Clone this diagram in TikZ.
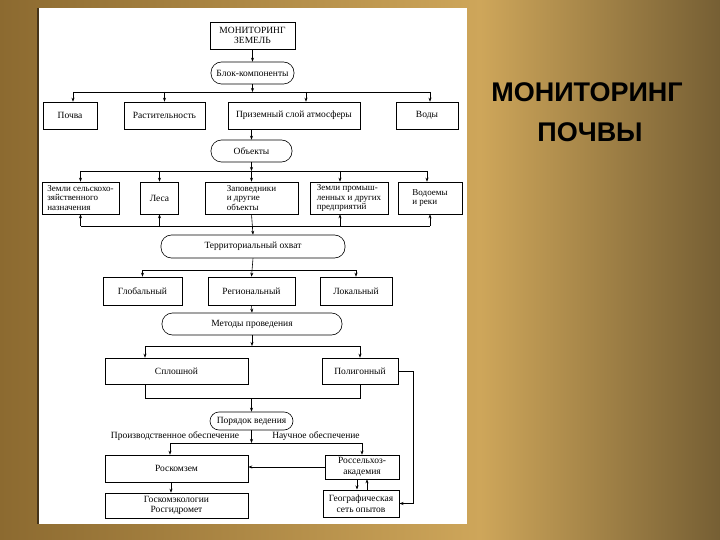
\documentclass[tikz,border=0pt]{standalone}
\usepackage{fontspec}
\setmainfont{Liberation Serif}
\newfontfamily\titlefont{Liberation Sans}
\usetikzlibrary{arrows.meta,calc}
\definecolor{goldL}{RGB}{140,106,48}
\definecolor{goldM}{RGB}{206,166,90}
\definecolor{goldR}{RGB}{118,95,52}
\definecolor{edge}{RGB}{70,52,25}
\begin{document}
\begin{tikzpicture}[x=1pt,y=-1pt,
  box/.style={draw,line width=0.6pt,inner sep=1pt,align=center,font=\fontsize{9.5}{10.5}\selectfont},
  box3/.style={box,align=left,font=\fontsize{9}{9.5}\selectfont},
  rbox/.style={box,rounded corners=10.5pt},
  lbl/.style={inner sep=0pt,font=\fontsize{9.5}{10.5}\selectfont},
  arr/.style={-{Stealth[length=4pt,width=3pt]},line width=0.6pt},
  ln/.style={line width=0.6pt},
  ttl/.style={font=\titlefont\bfseries\fontsize{27}{30}\selectfont,text=black,inner sep=0pt}]
% background
\useasboundingbox (0,0) rectangle (720,540);
\shade[left color=goldL,right color=goldM] (0,0) rectangle (480,540);
\shade[left color=goldM,right color=goldR] (480,0) rectangle (720,540);
\fill[white] (38,8) rectangle (467,524);
\draw[edge,line width=1.2pt] (38,8) -- (38,524);
% title
\node[ttl] (t1) at (587,92) {МОНИТОРИНГ};
\node[ttl] (t2) at (590,132) {ПОЧВЫ};
% helper coordinates
\coordinate (h1) at (0,92);
\coordinate (h2) at (0,171);
\coordinate (h3) at (0,226);
\coordinate (h4) at (0,270);
\coordinate (h5) at (0,346);
\coordinate (h6) at (0,398);
\coordinate (h7) at (0,443);
\coordinate (rx) at (413,0);
% nodes
\node[box,minimum width=85pt,minimum height=27pt] (mz) at (252.5,35.5) {МОНИТОРИНГ\\ЗЕМЕЛЬ};
\node[rbox,minimum width=83pt,minimum height=22pt] (bk) at (252.5,73) {Блок-компоненты};
\node[box,minimum width=54pt,minimum height=27pt] (pochva) at (70,115.5) {Почва};
\node[box,minimum width=81pt,minimum height=27pt] (rast) at (164.5,115.5) {Растительность};
\node[box,minimum width=132pt,minimum height=27pt] (priz) at (294,115.5) {Приземный слой атмосферы};
\node[box,minimum width=62pt,minimum height=27pt] (vody) at (427,115.5) {Воды};
\node[rbox,minimum width=81pt,minimum height=22pt] (obj) at (251.5,151) {Объекты};
\node[box3,minimum width=77pt,minimum height=32pt] (zs) at (80.5,198) {Земли сельскохо-\\зяйственного\\назначения};
\node[box,minimum width=38pt,minimum height=32pt] (lesa) at (159.5,198) {Леса};
\node[box3,minimum width=93pt,minimum height=32pt] (zap) at (251.5,198) {Заповедники\\и другие\\объекты};
\node[box3,minimum width=78pt,minimum height=32pt] (zp) at (349,198) {Земли промыш-\\ленных и других\\предприятий};
\node[box3,minimum width=64pt,minimum height=32pt] (vod) at (430,198) {Водоемы\\и реки};
\node[rbox,minimum width=184pt,minimum height=23pt] (terr) at (253,246.5) {Территориальный охват};
\node[box,minimum width=79pt,minimum height=28pt] (glob) at (142.5,291) {Глобальный};
\node[box,minimum width=87pt,minimum height=28pt] (reg) at (251.5,291) {Региональный};
\node[box,minimum width=72pt,minimum height=28pt] (lok) at (356,291) {Локальный};
\node[rbox,minimum width=180pt,minimum height=22pt] (met) at (252,324) {Методы проведения};
\node[box,minimum width=143pt,minimum height=26pt] (spl) at (176.5,371) {Сплошной};
\node[box,minimum width=76pt,minimum height=26pt] (pol) at (360,371) {Полигонный};
\node[box,rounded corners=9pt,minimum width=83pt,minimum height=18pt] (por) at (251.5,421) {Порядок ведения};
\node[lbl] (pe) at (175,436) {Производственное обеспечение};
\node[lbl] (ne) at (316,436) {Научное обеспечение};
\node[box,minimum width=143pt,minimum height=27pt] (rkz) at (176.5,468.5) {Роскомзем};
\node[box,minimum width=74pt,minimum height=24pt] (rsa) at (362,467) {Россельхоз-\\академия};
\node[box,minimum width=143pt,minimum height=25pt] (gke) at (176.5,505.5) {Госкомэкологии\\Росгидромет};
\node[box,line width=1pt,minimum width=76pt,minimum height=27pt] (geo) at (361,503.5) {Географическая\\сеть опытов};
% connectors
\draw[arr] (mz.south) -- (bk.north);
\draw[arr] (bk.south) -- (bk.south |- h1);
\draw[ln] ([xshift=3pt]pochva.north |- h1) -- ([xshift=3pt]vody.north |- h1);
\draw[arr] ([xshift=3pt]pochva.north |- h1) -- ([xshift=3pt]pochva.north);
\draw[arr] (rast.north |- h1) -- (rast.north);
\draw[arr] ([xshift=12pt]priz.north |- h1) -- ([xshift=12pt]priz.north);
\draw[arr] ([xshift=3pt]vody.north |- h1) -- ([xshift=3pt]vody.north);
\draw[arr] (obj.north |- priz.south) -- (obj.north);
\draw[arr] (obj.south) -- (obj.south |- h2);
\draw[ln] (zs.north |- h2) -- ([xshift=-3pt]vod.north |- h2);
\draw[arr] (zs.north |- h2) -- (zs.north);
\draw[arr] (lesa.north |- h2) -- (lesa.north);
\draw[arr] (zap.north |- h2) -- (zap.north);
\draw[arr] ([xshift=-9pt]zp.north |- h2) -- ([xshift=-9pt]zp.north);
\draw[arr] ([xshift=-3pt]vod.north |- h2) -- ([xshift=-3pt]vod.north);
\draw[ln] (zs.south |- h3) -- (vod.south |- h3);
\draw[arr] (zs.south |- h3) -- (zs.south);
\draw[arr] (lesa.south |- h3) -- (lesa.south);
\draw[arr] ([xshift=-9pt]zp.south |- h3) -- ([xshift=-9pt]zp.south);
\draw[arr] (vod.south |- h3) -- (vod.south);
\draw[arr] (zap.south) -- (terr.north);
\draw[ln] (glob.north |- h4) -- (lok.north |- h4);
\draw[arr] (terr.south) -- (reg.north);
\draw[arr] (glob.north |- h4) -- (glob.north);
\draw[arr] (lok.north |- h4) -- (lok.north);
\draw[arr] (reg.south) -- (met.north);
\draw[arr] (met.south) -- (met.south |- h5);
\draw[ln] ([xshift=-31.5pt]spl.north |- h5) -- (pol.north |- h5);
\draw[arr] ([xshift=-31.5pt]spl.north |- h5) -- ([xshift=-31.5pt]spl.north);
\draw[arr] (pol.north |- h5) -- (pol.north);
\draw[ln] ([xshift=-31.5pt]spl.south) -- ([xshift=-31.5pt]spl.south |- h6) -- (pol.south |- h6) -- (pol.south);
\draw[arr] (por.north |- h6) -- (por.north);
\draw[arr] (por.south) -- (por.south |- h7);
\draw[ln] ([xshift=-6.5pt]rkz.north |- h7) -- (rsa.north |- h7);
\draw[arr] ([xshift=-6.5pt]rkz.north |- h7) -- ([xshift=-6.5pt]rkz.north);
\draw[arr] (rsa.north |- h7) -- (rsa.north);
\draw[arr] (rsa.west) -- (rsa.west -| rkz.east);
\draw[arr] ([xshift=-5.5pt]rkz.south) -- ([xshift=-5.5pt]rkz.south |- gke.north);
\draw[arr] ([xshift=-5pt]rsa.south) -- ([xshift=-5pt]rsa.south |- geo.north);
\draw[arr] ([xshift=6pt]geo.north) -- ([xshift=6pt]geo.north |- rsa.south);
\draw[arr] (pol.east) -- (pol.east -| rx) -- (rx |- geo.east) -- (geo.east);
\end{tikzpicture}
\end{document}
